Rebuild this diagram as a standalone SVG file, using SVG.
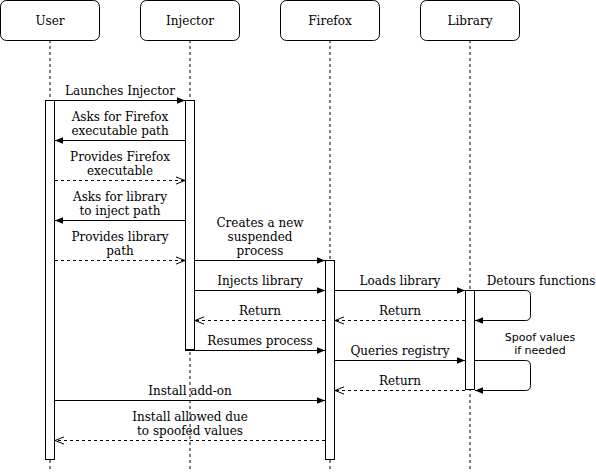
<svg xmlns="http://www.w3.org/2000/svg" width="596" height="472" viewBox="0 0 596 472">
<defs>
<style>
.box{fill:#fff;stroke:#000;stroke-width:1}
.life{stroke:#000;stroke-width:1;stroke-dasharray:3 3;fill:none}
.act{fill:#fff;stroke:#000;stroke-width:1}
.msg{stroke:#000;stroke-width:1;fill:none;marker-end:url(#filled)}
.ret{stroke:#000;stroke-width:1;fill:none;stroke-dasharray:3 3;marker-end:url(#open)}
.t{font-family:"DejaVu Serif","Liberation Serif",serif;font-size:12px;fill:#000;text-anchor:middle}
.s{font-family:"DejaVu Sans","Liberation Sans",sans-serif;font-size:11px;fill:#000;text-anchor:middle}
</style>
<marker id="filled" viewBox="0 0 10 10" refX="10" refY="5" markerWidth="8" markerHeight="8" markerUnits="userSpaceOnUse" orient="auto">
<path d="M0,1 L10,5 L0,9 Z" fill="#000"/>
</marker>
<marker id="open" viewBox="0 0 10 10" refX="10" refY="5" markerWidth="9" markerHeight="9" markerUnits="userSpaceOnUse" orient="auto">
<path d="M0,1 L10,5 L0,9" fill="none" stroke="#000" stroke-width="1.1"/>
</marker>
</defs>
<rect width="596" height="472" fill="#fff"/>
<g id="lifelines">
<line class="life" x1="50" y1="40" x2="50" y2="472"/>
<line class="life" x1="190" y1="40" x2="190" y2="472"/>
<line class="life" x1="330" y1="40" x2="330" y2="472"/>
<line class="life" x1="470" y1="40" x2="470" y2="472"/>
</g>
<g id="user"><rect class="box" x="0.5" y="0.5" width="99" height="40" rx="6"/><text class="t" x="50" y="25">User</text></g>
<g id="injector"><rect class="box" x="140.5" y="0.5" width="99" height="40" rx="6"/><text class="t" x="190" y="25">Injector</text></g>
<g id="firefox"><rect class="box" x="280.5" y="0.5" width="99" height="40" rx="6"/><text class="t" x="330" y="25">Firefox</text></g>
<g id="library"><rect class="box" x="420.5" y="0.5" width="99" height="40" rx="6"/><text class="t" x="470" y="25">Library</text></g>
<g id="activations">
<rect class="act" x="45.5" y="100.5" width="9" height="359"/>
<rect class="act" x="185.5" y="100.5" width="9" height="249"/>
<rect class="act" x="325.5" y="260.5" width="9" height="199"/>
<rect class="act" x="465.5" y="290.5" width="9" height="99"/>
</g>
<g id="connectors">
<line class="msg" x1="55" y1="100.5" x2="185" y2="100.5"/>
<line class="msg" x1="185" y1="140.5" x2="55" y2="140.5"/>
<line class="ret" x1="55" y1="180.5" x2="185" y2="180.5"/>
<line class="msg" x1="185" y1="220.5" x2="55" y2="220.5"/>
<line class="ret" x1="55" y1="260.5" x2="185" y2="260.5"/>
<line class="msg" x1="195" y1="260.5" x2="325" y2="260.5"/>
<line class="msg" x1="195" y1="290.5" x2="325" y2="290.5"/>
<line class="msg" x1="335" y1="290.5" x2="465" y2="290.5"/>
<path class="msg" d="M475,290.5 H525.5 Q530.5,290.5 530.5,295.5 V315.5 Q530.5,320.5 525.5,320.5 H475"/>
<line class="ret" x1="325" y1="320.5" x2="195" y2="320.5"/>
<line class="ret" x1="465" y1="320.5" x2="335" y2="320.5"/>
<line class="msg" x1="185" y1="350.5" x2="325" y2="350.5"/>
<line class="msg" x1="335" y1="360.5" x2="465" y2="360.5"/>
<path class="msg" d="M475,360.5 H525.5 Q530.5,360.5 530.5,365.5 V385.5 Q530.5,390.5 525.5,390.5 H475"/>
<line class="ret" x1="465" y1="390.5" x2="335" y2="390.5"/>
<line class="msg" x1="55" y1="400.5" x2="325" y2="400.5"/>
<line class="ret" x1="325" y1="440.5" x2="55" y2="440.5"/>
</g>
<g id="labels">
<text class="t" x="120" y="95">Launches Injector</text>
<text class="t" x="120" y="121">Asks for Firefox</text>
<text class="t" x="120" y="135">executable path</text>
<text class="t" x="120" y="161">Provides Firefox</text>
<text class="t" x="120" y="175">executable</text>
<text class="t" x="120" y="201">Asks for library</text>
<text class="t" x="120" y="215">to inject path</text>
<text class="t" x="120" y="241">Provides library</text>
<text class="t" x="120" y="255">path</text>
<text class="t" x="260" y="227">Creates a new</text>
<text class="t" x="260" y="241">suspended</text>
<text class="t" x="260" y="255">process</text>
<text class="t" x="260" y="285">Injects library</text>
<text class="t" x="400" y="285">Loads library</text>
<text class="t" x="541" y="285">Detours functions</text>
<text class="t" x="260" y="315">Return</text>
<text class="t" x="400" y="315">Return</text>
<text class="t" x="260" y="345">Resumes process</text>
<text class="t" x="400" y="355">Queries registry</text>
<text class="s" x="540" y="341">Spoof values</text>
<text class="s" x="540" y="354">if needed</text>
<text class="t" x="400" y="385">Return</text>
<text class="t" x="190" y="395">Install add-on</text>
<text class="t" x="190" y="421">Install allowed due</text>
<text class="t" x="190" y="435">to spoofed values</text>
</g>
</svg>
